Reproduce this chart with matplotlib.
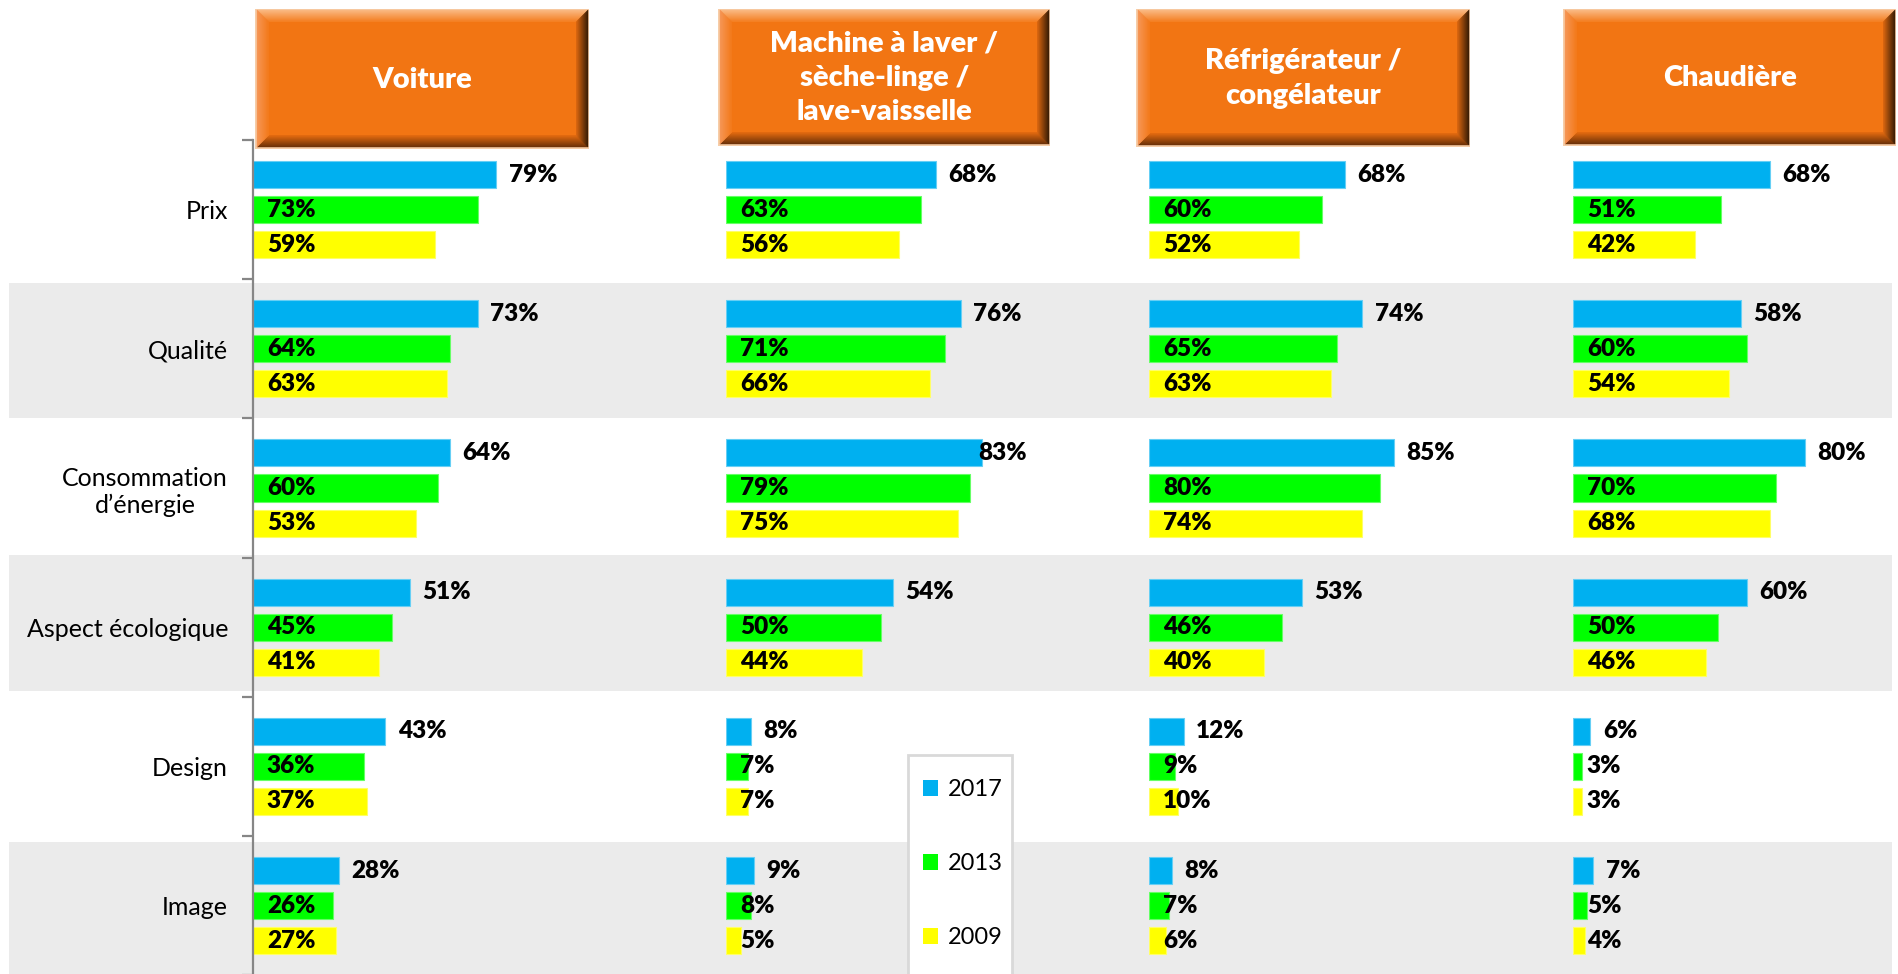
import matplotlib
matplotlib.use("Agg")
import matplotlib.pyplot as plt
from matplotlib.patches import Rectangle, Polygon, Patch
import numpy as np

plt.rcParams["font.family"] = ["Lato", "DejaVu Sans"]

# ---------------- data ----------------
categories = ["Prix", "Qualité", "Consommation\nd’énergie", "Aspect écologique", "Design", "Image"]
panel_titles = ["Voiture",
                "Machine à laver /\nsèche-linge /\nlave-vaisselle",
                "Réfrigérateur /\ncongélateur",
                "Chaudière"]
years = ["2017", "2013", "2009"]

voiture_2017 = [79, 73, 64, 51, 43, 28]
voiture_2013 = [73, 64, 60, 45, 36, 26]
voiture_2009 = [59, 63, 53, 41, 37, 27]

machine_2017 = [68, 76, 83, 54, 8, 9]
machine_2013 = [63, 71, 79, 50, 7, 8]
machine_2009 = [56, 66, 75, 44, 7, 5]

frigo_2017 = [68, 74, 85, 53, 12, 8]
frigo_2013 = [60, 65, 80, 46, 9, 7]
frigo_2009 = [52, 63, 74, 40, 10, 6]

chaudiere_2017 = [68, 58, 80, 60, 6, 7]
chaudiere_2013 = [51, 60, 70, 50, 3, 5]
chaudiere_2009 = [42, 54, 68, 46, 3, 4]

panel_values = [
    [voiture_2017, voiture_2013, voiture_2009],
    [machine_2017, machine_2013, machine_2009],
    [frigo_2017, frigo_2013, frigo_2009],
    [chaudiere_2017, chaudiere_2013, chaudiere_2009],
]

# ---------------- style / layout ----------------
W, H, DPI = 1898, 974, 100
colors = ["#00B0F0", "#00FF00", "#FFFF00"]
edge_colors = ["#66CFF5", "#66FF66", "#FFFF66"]
band_color = "#EBEBEB"
axis_gray = "#868686"

top_px = 140.0
row_px = 139.2
bottom_px = top_px + 6 * row_px

# (bar start px, px per %, right edge px)
panel_geom = [(253, 3.08, 588), (726, 3.09, 1027), (1149, 2.885, 1469), (1573, 2.895, 1895)]
# header boxes (x0, y0, x1, y1) px
header_boxes = [(257, 10, 588, 147), (720, 10, 1049, 144), (1138, 10, 1469, 145), (1565, 10, 1895, 144)]
# grey bands (y0, y1) px
bands = [(283, 418), (555, 691), (842, 974)]

fig = plt.figure(figsize=(W / DPI, H / DPI), dpi=DPI)
fig.patch.set_facecolor("white")

bg = fig.add_axes([0, 0, 1, 1], zorder=0)
bg.set_xlim(0, W)
bg.set_ylim(H, 0)
bg.axis("off")

for y0, y1 in bands:
    bg.add_patch(Rectangle((9, y0), 1892 - 9, y1 - y0, facecolor=band_color, edgecolor="none"))

# legend frame (runs off the bottom edge as in the source)
bg.add_patch(Rectangle((908, 755), 104, 240, facecolor="white", edgecolor="#D9D9D9",
                       lw=2, zorder=6))


def mix(c1, c2, t):
    return tuple((a + (b - a) * t) / 255.0 for a, b in zip(c1, c2))


face = (242, 117, 19)
side_outer = {
    "top": (250, 185, 130),
    "left": (246, 150, 85),
    "right": (60, 30, 5),
    "bottom": (110, 50, 8),
}
side_inner = {
    "top": (244, 128, 35),
    "left": (243, 122, 28),
    "right": (215, 100, 15),
    "bottom": (225, 105, 15),
}


def draw_header(x0, y0, x1, y1, text):
    b = 12
    bg.add_patch(Rectangle((x0 - 1.5, y0 - 1.5), x1 - x0 + 3, y1 - y0 + 3,
                           facecolor="#F6CDA8", edgecolor="none", zorder=1))
    n = b
    for k in range(n):
        t = k / (n - 1)
        ox0, oy0, ox1, oy1 = x0 + k, y0 + k, x1 - k, y1 - k
        ix0, iy0, ix1, iy1 = ox0 + 1, oy0 + 1, ox1 - 1, oy1 - 1
        polys = {
            "top": [(ox0, oy0), (ox1, oy0), (ix1, iy0), (ix0, iy0)],
            "bottom": [(ox0, oy1), (ox1, oy1), (ix1, iy1), (ix0, iy1)],
            "left": [(ox0, oy0), (ix0, iy0), (ix0, iy1), (ox0, oy1)],
            "right": [(ox1, oy0), (ix1, iy0), (ix1, iy1), (ox1, oy1)],
        }
        for side, pts in polys.items():
            c = mix(side_outer[side], side_inner[side], t)
            bg.add_patch(Polygon(pts, closed=True, facecolor=c, edgecolor=c, lw=0.3, zorder=2))
    bg.add_patch(Rectangle((x0 + b, y0 + b), (x1 - x0) - 2 * b, (y1 - y0) - 2 * b,
                           facecolor=tuple(v / 255 for v in face), edgecolor="none", zorder=3))
    bg.text((x0 + x1) / 2, (y0 + y1) / 2 + 1, text, color="white", fontsize=21,
            fontweight="heavy", ha="center", va="center", multialignment="center",
            linespacing=1.4, zorder=4)


for (box, title) in zip(header_boxes, panel_titles):
    draw_header(*box, title)

y = np.arange(len(categories))
offs = [-0.252, 0.0, 0.252]
bar_h = 0.194

axes = []
blue_labels = []
for p, ((x0, ppp, x1), vals) in enumerate(zip(panel_geom, panel_values)):
    ax = fig.add_axes([x0 / W, 1 - bottom_px / H, (x1 - x0) / W, (bottom_px - top_px) / H], zorder=5)
    ax.set_facecolor("none")
    ax.set_xlim(0, (x1 - x0) / ppp)
    ax.set_ylim(len(categories) - 0.5, -0.5)
    for s in ["top", "right", "bottom", "left"]:
        ax.spines[s].set_visible(False)
    ax.set_xticks([])
    for k, (series, col, ec) in enumerate(zip(vals, colors, edge_colors)):
        ax.barh(y + offs[k], series, height=bar_h, color=col, edgecolor=ec, linewidth=0.8,
                label=years[k])
        for yi, v in zip(y, series):
            if k == 0:
                t = ax.annotate(f"{v}%", xy=(v, yi + offs[k]), xytext=(9, 0),
                                textcoords="offset points", ha="left", va="center",
                                fontsize=17.5, fontweight="heavy", color="black")
                blue_labels.append((ax, t))
            else:
                ax.annotate(f"{v}%", xy=(0, yi + offs[k]), xytext=(10, 0),
                            textcoords="offset points", ha="left", va="center",
                            fontsize=17.5, fontweight="heavy", color="black")
    if p == 0:
        ax.spines["left"].set_visible(True)
        ax.spines["left"].set_color(axis_gray)
        ax.spines["left"].set_linewidth(1.6)
        ax.set_yticks(y)
        ax.set_yticklabels(categories, fontsize=18, color="black")
        for lab in ax.get_yticklabels():
            lab.set_multialignment("center")
        ax.tick_params(axis="y", which="major", length=0, pad=18)
        ax.set_yticks(np.arange(len(categories) + 1) - 0.5, minor=True)
        ax.tick_params(axis="y", which="minor", length=8, width=1.6, color=axis_gray, direction="out")
    else:
        ax.set_yticks([])
    axes.append(ax)

# keep outside-end labels inside each panel area (as the source chart does)
fig.canvas.draw()
renderer = fig.canvas.get_renderer()
for ax, t in blue_labels:
    bb = t.get_window_extent(renderer)
    right = ax.get_window_extent(renderer).x1
    if bb.x1 > right:
        over_pt = (bb.x1 - right) * 72.0 / DPI
        dx, dy = t.xyann
        t.xyann = (dx - over_pt, dy)

handles = [Patch(facecolor=c, edgecolor="none") for c in colors]
leg = fig.legend(handles, years, loc="upper left", bbox_to_anchor=(923 / W, 1 - 779 / H),
                 frameon=False, fontsize=17, handlelength=0.65, handleheight=0.65,
                 handletextpad=0.4, labelspacing=2.25, borderpad=0, borderaxespad=0)
leg.set_zorder(10)

fig.savefig("out.png", dpi=DPI, facecolor="white")
